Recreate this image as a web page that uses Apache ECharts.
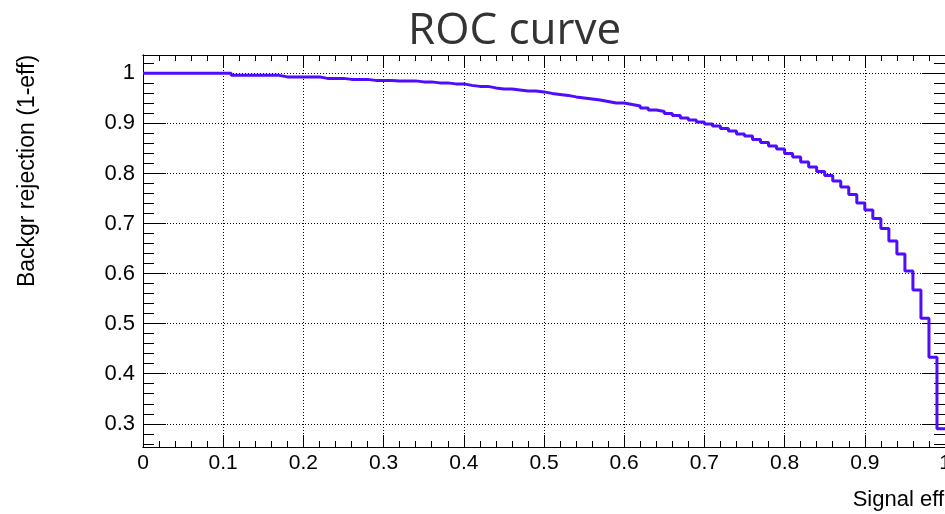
<!DOCTYPE html>
<html>
<head>
<meta charset="utf-8">
<title>ROC curve</title>
<script src="https://cdn.jsdelivr.net/npm/echarts@6/dist/echarts.min.js"></script>
<style>
  html, body { margin: 0; padding: 0; background: #fff; }
  #chart { width: 945px; height: 514px; }
</style>
</head>
<body>
<div id="chart"></div>
<script>
  // background rejection per signal-efficiency bin (100 bins, 0..1)
  var rejection = [
    1, 1, 1, 1, 1, 1, 1, 1, 1, 1,
    1, 0.996, 0.996, 0.996, 0.996, 0.996, 0.996, 0.993, 0.993, 0.993,
    0.993, 0.993, 0.990, 0.990, 0.990, 0.988, 0.988, 0.988, 0.986, 0.986,
    0.986, 0.985, 0.985, 0.985, 0.983, 0.983, 0.981, 0.981, 0.979, 0.979,
    0.976, 0.974, 0.974, 0.971, 0.969, 0.969, 0.967, 0.965, 0.965, 0.963,
    0.960, 0.958, 0.956, 0.953, 0.951, 0.949, 0.947, 0.944, 0.941, 0.941,
    0.938, 0.935, 0.931, 0.927, 0.924, 0.920, 0.916, 0.911, 0.907, 0.903,
    0.899, 0.895, 0.890, 0.885, 0.879, 0.875, 0.868, 0.862, 0.855, 0.849,
    0.840, 0.833, 0.823, 0.813, 0.804, 0.796, 0.785, 0.773, 0.758, 0.741,
    0.727, 0.710, 0.690, 0.665, 0.639, 0.605, 0.567, 0.511, 0.433, 0.290
  ];
  var xTicks = [0, 0.1, 0.2, 0.3, 0.4, 0.5, 0.6, 0.7, 0.8, 0.9, 1];
  var yTicks = [0.3, 0.4, 0.5, 0.6, 0.7, 0.8, 0.9, 1];
  var yMin = 0.2536, yMax = 1.0367;

  var nBins = rejection.length;
  var stepData = [];
  for (var i = 0; i < nBins; i++) {
    stepData.push([i / nBins, rejection[i]]);
  }
  stepData.push([1, rejection[nBins - 1]]);

  // minor ticks every 0.02 between the major ones
  function minors(lo, hi) {
    var out = [];
    for (var k = Math.ceil(lo * 50); k <= Math.floor(hi * 50); k++) {
      if (k % 5 !== 0) out.push(+(k / 50).toFixed(2));
    }
    return out;
  }
  var xMinor = minors(0, 1);
  var yMinor = minors(yMin, yMax);

  var black = '#000';
  var labelFont = 'Liberation Sans';

  function xAx(pos, ticks, len, opts) {
    var a = {
      type: 'value', min: 0, max: 1, position: pos,
      axisLine: { show: true, onZero: false, lineStyle: { color: black, width: 1 } },
      axisTick: { show: true, inside: true, length: len, customValues: ticks, lineStyle: { color: black, width: 1 } },
      axisLabel: { show: false },
      splitLine: { show: false }
    };
    return Object.assign(a, opts || {});
  }
  function yAx(pos, ticks, len, opts) {
    var a = {
      type: 'value', min: yMin, max: yMax, position: pos,
      axisLine: { show: true, onZero: false, lineStyle: { color: black, width: 1 } },
      axisTick: { show: true, inside: true, length: len, customValues: ticks, lineStyle: { color: black, width: 1 } },
      axisLabel: { show: false },
      splitLine: { show: false }
    };
    return Object.assign(a, opts || {});
  }

  var chart = echarts.init(document.getElementById('chart'));
  var option = {
    animation: false,
    backgroundColor: '#fff',
    title: {
      text: 'ROC curve',
      left: 403,
      top: 4,
      textStyle: { fontFamily: 'Open Sans', fontSize: 44, fontWeight: 'normal', color: '#333' }
    },
    grid: { left: 143, right: 0, top: 55, bottom: 67, outerBoundsMode: 'none', containLabel: false },
    xAxis: [
      xAx('bottom', xTicks, 12, {
        axisLabel: { show: true, customValues: xTicks, margin: 6, fontFamily: labelFont, fontSize: 21, color: black },
        splitLine: { show: true, lineStyle: { color: black, type: [1, 2], width: 1 } }
      }),
      xAx('bottom', xMinor, 6),
      xAx('top', xTicks, 12),
      xAx('top', xMinor, 6)
    ],
    yAxis: [
      yAx('left', yTicks, 23, {
        axisLabel: { show: true, customValues: yTicks, margin: 8, fontFamily: labelFont, fontSize: 22, color: black },
        splitLine: { show: true, lineStyle: { color: black, type: [1, 2], width: 1 } }
      }),
      yAx('left', yMinor, 11),
      yAx('right', yTicks, 23),
      yAx('right', yMinor, 11)
    ],
    graphic: [
      {
        type: 'text', x: 28, y: 171, rotation: Math.PI / 2,
        style: { text: 'Backgr rejection (1-eff)', align: 'center', verticalAlign: 'middle',
                 font: '23px "Liberation Sans"', fill: black }
      },
      {
        type: 'text', x: 944, y: 500,
        style: { text: 'Signal eff', align: 'right', verticalAlign: 'middle',
                 font: '22px "Liberation Sans"', fill: black }
      }
    ],
    series: [{
      type: 'line',
      step: 'end',
      xAxisIndex: 0,
      yAxisIndex: 0,
      symbol: 'none',
      data: stepData,
      lineStyle: { color: '#4f0cff', width: 3 }
    }]
  };
  chart.setOption(option);
</script>
</body>
</html>
